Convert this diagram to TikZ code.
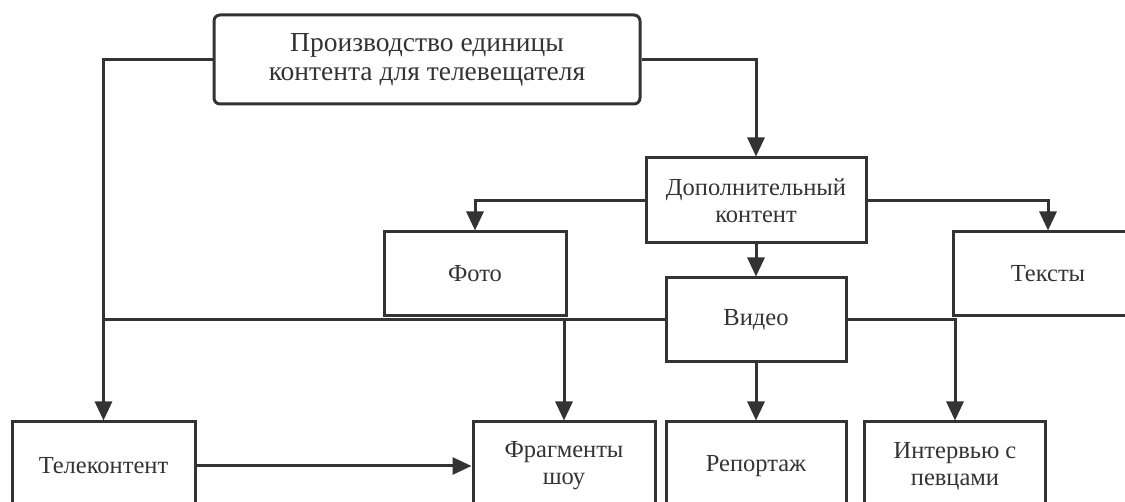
\documentclass[tikz,border=0pt]{standalone}
\usepackage{fontspec}
\setmainfont{Liberation Serif}
\usetikzlibrary{arrows.meta}
\definecolor{ink}{HTML}{333333}

\begin{document}
\begin{tikzpicture}[x=1pt,y=-1pt,
    box/.style={draw=ink,line width=3pt,text=ink,align=center,inner sep=0pt,
        font=\fontsize{24.5}{27}\selectfont},
    link/.style={draw=ink,line width=3pt},
    arr/.style={link,-{Triangle[length=19pt,width=17pt]}}]
    \useasboundingbox (0,0) rectangle (1125,502);
    \clip (0,0) rectangle (1125,502);
    % boxes
    \node[box,rounded corners=6pt,minimum width=426,minimum height=89,
        font=\fontsize{27.5}{29}\selectfont] (top) at (427,59.5)
        {Производство единицы\\контента для телевещателя};
    \node[box,minimum width=220,minimum height=85] (extra) at (756,200.5) {Дополнительный\\контент};
    \node[box,minimum width=182,minimum height=84] (photo) at (475,274) {Фото};
    \node[box,minimum width=190,minimum height=84] (texts) at (1048,274) {Тексты};
    \node[box,minimum width=180,minimum height=84] (video) at (756,320) {Видео};
    \node[box,minimum width=183,minimum height=88] (telecont) at (103.5,466) {Телеконтент};
    \node[box,minimum width=182,minimum height=88] (frag) at (564,466) {Фрагменты\\шоу};
    \node[box,minimum width=180,minimum height=88] (report) at (756,466) {Репортаж};
    \node[box,minimum width=181,minimum height=88] (interview) at (955,466) {Интервью с\\певцами};
    % connectors
    \draw[arr] (top.west) -| (telecont.north);
    \draw[arr] (top.east) -| (extra.north);
    \draw[arr] (extra.west) -| (photo.north);
    \draw[arr] (extra.east) -| (texts.north);
    \draw[arr] (extra.south) -- (video.north);
    \draw[link] (video.west) -- (video.west -| telecont.north);
    \draw[arr] (video.west -| frag.north) -- (frag.north);
    \draw[arr] (video.south) -- (report.north);
    \draw[arr] (video.east) -| (interview.north);
    \draw[arr] (telecont.east) -- (frag.west);
\end{tikzpicture}
\end{document}
